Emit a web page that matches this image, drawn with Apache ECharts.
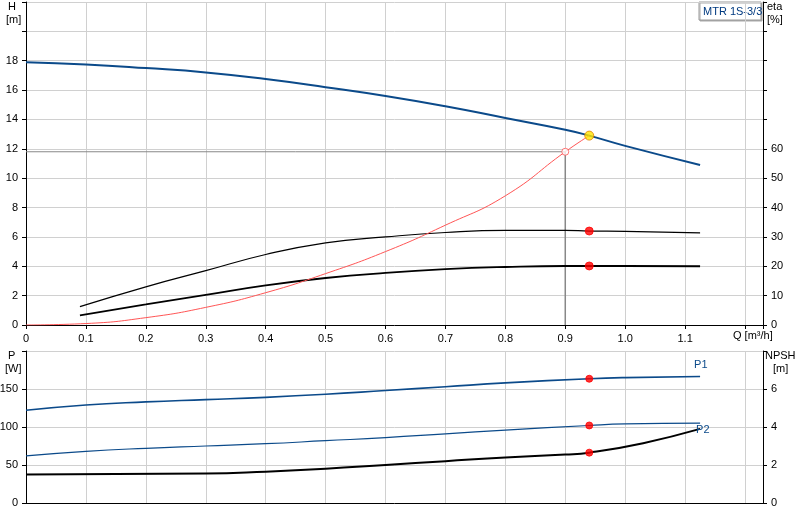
<!DOCTYPE html><html><head><meta charset="utf-8">
<script src="https://cdn.jsdelivr.net/npm/echarts@6/dist/echarts.min.js"></script>
<style>body{margin:0}#c{width:800px;height:520px}</style></head><body><div id="c"></div><script>
const qH=[0,0.1,0.2,0.3,0.4,0.5,0.6,0.7,0.8,0.9,0.94,1.0,1.125];
const H=[17.9,17.75,17.5,17.2,16.75,16.2,15.6,14.9,14.1,13.3,12.9,12.2,10.9];
const qE=[0.09,0.2,0.3,0.4,0.5,0.6,0.7,0.8,0.9,0.94,1.0,1.125];
const eta1=[6.25,13,18.5,24,28,30,31.5,32.2,32.2,32,31.9,31.4];
const eta2=[3.25,7,10.25,13.5,16,17.75,19,19.75,20.1,20.1,20.1,20];
const qR=[0,0.1,0.2,0.3,0.4,0.5,0.6,0.7,0.8,0.9,0.94];
const R=[0,0.1,0.5,1.2,2.2,3.5,5.0,6.8,8.8,11.8,12.9];
const qP=[0,0.1,0.2,0.3,0.4,0.5,0.6,0.7,0.8,0.94,1.0,1.125];
const P1=[122,129,133,136,139,143,148,153,158,163.5,165,166.5];
const P2=[62,68,72,75,78,82,86,91,96,102,104,105];
const qN=[0,0.3,0.4,0.5,0.6,0.7,0.8,0.9,0.94,1.03,1.125];
const NPSH=[1.5,1.55,1.65,1.8,2.0,2.2,2.4,2.55,2.65,3.15,3.9];
const duty={q:0.94,H:12.9,eta1:32,eta2:20.1,P1:163.5,P2:102,N:2.65};
const op={q:0.9,H:11.8};
const z=(xs,ys)=>xs.map((x,i)=>[x,ys[i]]);
const ax={color:'#000',fontSize:11,fontFamily:'Arial, Liberation Sans'};
const gl={show:true,lineStyle:{color:'#d0d0d0'}};
const xa=(gi,lab)=>({type:'value',gridIndex:gi,min:0,max:1.23,interval:0.1,axisLine:{onZero:false,lineStyle:{color:'#000'}},axisTick:{show:lab,length:4},
  axisLabel:{show:lab,...ax,formatter:v=>v>1.15?'':(v===0?'0':v.toFixed(1))},splitLine:gl});
const ya=(gi,pos,min,max,iv,maxLab,showSplit)=>({type:'value',gridIndex:gi,position:pos,min,max,interval:iv,
  axisLine:{show:true,lineStyle:{color:'#000'}},axisTick:{show:true,length:4},
  axisLabel:{...ax,formatter:v=>v>maxLab?'':v},splitLine:showSplit?gl:{show:false}});
const T=(x,y,t,al,c)=>({type:'text',x,y,style:{text:t,fill:c||'#000',font:'11px Arial, Liberation Sans',align:al||'left',lineHeight:13}});
const L=(name,xi,yi,d,c,w,extra)=>Object.assign({type:'line',name,xAxisIndex:xi,yAxisIndex:yi,data:d,smooth:true,symbol:'none',lineStyle:{color:c,width:w},silent:true,z:3},extra||{});
const dot=(xi,yi,p,c,b,s)=>({type:'scatter',xAxisIndex:xi,yAxisIndex:yi,data:[p],symbolSize:s||8,itemStyle:{color:c,borderColor:b||c,borderWidth:1},z:5,silent:true});
const opt={animation:false,
 grid:[{left:26,right:37,top:2,height:323,outerBoundsMode:'none'},{left:26,right:37,top:351,height:152,outerBoundsMode:'none'}],
 xAxis:[xa(0,true),xa(1,false)],
 yAxis:[ya(0,'left',0,22,2,18,true),ya(0,'right',0,110,10,60,false),
        ya(1,'left',0,200,50,150,true),ya(1,'right',0,8,2,6,false)],
 graphic:[T(733,329,'Q [m³/h]'),
  T(8,0,'H'),T(6,13,'[m]'),T(767,0,'eta'),T(767,13,'[%]'),
  T(8,349,'P'),T(5,362,'[W]'),T(765,349,'NPSH'),T(773,362,'[m]'),
  {type:'rect',shape:{x:699,y:2,width:62,height:18},style:{fill:'#fff',stroke:'#999',shadowColor:'#aaa',shadowOffsetX:1,shadowOffsetY:1}},
  T(703,5,'MTR 1S-3/3','left','#003a80')],
 series:[
  L('opH',0,0,[[0,op.H],[op.q,op.H]],'#888',1,{smooth:false}),
  L('opV',0,0,[[op.q,op.H],[op.q,0]],'#888',1.5,{smooth:false}),
  L('H',0,0,z(qH,H),'#0b4a8a',2),
  L('eta1',0,1,z(qE,eta1),'#000',1.2),
  L('eta2',0,1,z(qE,eta2),'#000',1.8),
  L('R',0,0,z(qR,R),'#ff5555',1),
  dot(0,0,[op.q,op.H],'#fff','#ff5555',7),
  dot(0,0,[duty.q,duty.H],'#ffe600','#e08000',9),
  dot(0,1,[duty.q,duty.eta1],'#ff0000'),
  dot(0,1,[duty.q,duty.eta2],'#ff0000'),
  L('P1',1,2,z(qP,P1),'#0b4a8a',1.6,{endLabel:{show:true,formatter:'P1',offset:[-14,-11],...ax,color:'#0b4a8a'}}),
  L('P2',1,2,z(qP,P2),'#0b4a8a',1.2,{endLabel:{show:true,formatter:'P2',offset:[-12,7],...ax,color:'#0b4a8a'}}),
  L('NPSH',1,3,z(qN,NPSH),'#000',2),
  dot(1,2,[duty.q,duty.P1],'#ff0000','#ff0000',7),
  dot(1,2,[duty.q,duty.P2],'#ff0000','#ff0000',7),
  dot(1,3,[duty.q,duty.N],'#ff0000','#ff0000',7)
 ]};
echarts.init(document.getElementById('c')).setOption(opt);
</script></body></html>
